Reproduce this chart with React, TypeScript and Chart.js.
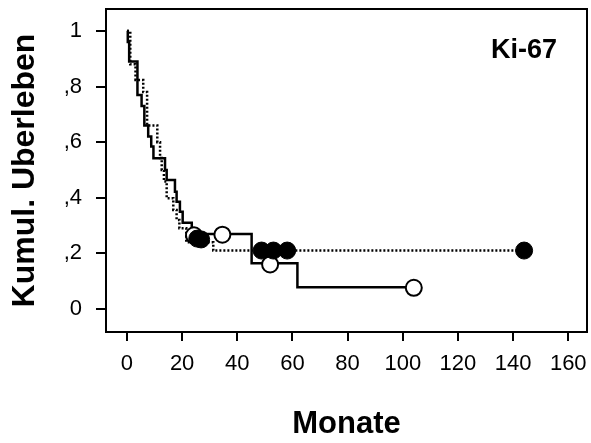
import { useEffect, useRef } from "react";
import { Chart, registerables } from "chart.js";

Chart.register(...registerables);

const FONT = "'Liberation Sans', Arial, Helvetica, sans-serif";

const xTickValues = [0, 20, 40, 60, 80, 100, 120, 140, 160];
const yTickValues = [0, 0.2, 0.4, 0.6, 0.8, 1];

// Solid Kaplan-Meier curve (step times in months, survival after step)
const solidTimes = [0, 0.3, 0.8, 3.8, 5.3, 6.3, 7.7, 8.8, 9.6, 13.8, 14.4, 17.4, 18.0, 19.2, 20.2, 23.5, 45.2, 61.8, 104];
const solidSurv = [1, 0.96, 0.89, 0.77, 0.73, 0.66, 0.62, 0.584, 0.542, 0.5, 0.464, 0.422, 0.386, 0.35, 0.31, 0.27, 0.164, 0.078, 0.078];
// Solid curve censored observations (open circles)
const solidCensorTimes = [24.3, 34.6, 51.9, 104];
const solidCensorSurv = [0.265, 0.267, 0.16, 0.076];

// Dotted Kaplan-Meier curve
const dottedTimes = [0, 1.2, 3.1, 5.9, 7.3, 11.0, 12.0, 12.6, 13.4, 14.4, 16.8, 18.0, 19.0, 21.5, 31.3, 144];
const dottedSurv = [1, 0.88, 0.824, 0.78, 0.66, 0.6, 0.543, 0.5, 0.458, 0.398, 0.356, 0.32, 0.29, 0.24, 0.21, 0.21];
// Dotted curve censored observations (filled circles)
const dottedCensorTimes = [25.5, 26.9, 48.8, 53.1, 58.1, 144];
const dottedCensorSurv = [0.253, 0.25, 0.21, 0.21, 0.21, 0.21];

const xTitle = "Monate";
const yTitle = "Kumul. Uberleben";
const panelLabel = "Ki-67";

const toPoints = (xs: number[], ys: number[]) => xs.map((x, i) => ({ x, y: ys[i] }));

export default function App() {
  const ref = useRef<HTMLCanvasElement>(null);

  useEffect(() => {
    document.body.style.margin = "0";
    const canvas = ref.current;
    if (!canvas) return;

    const boxPlugin = {
      id: "boxPlugin",
      beforeDatasetsDraw(chart: any) {
        const { ctx, chartArea } = chart;
        ctx.save();
        ctx.strokeStyle = "#000";
        ctx.lineWidth = 2;
        ctx.strokeRect(chartArea.left, chartArea.top, chartArea.right - chartArea.left, chartArea.bottom - chartArea.top);
        ctx.fillStyle = "#000";
        ctx.font = `bold 27px ${FONT}`;
        ctx.textAlign = "right";
        ctx.textBaseline = "alphabetic";
        ctx.fillText(panelLabel, chartArea.right - 30, chartArea.top + 49);
        ctx.restore();
      },
    };

    const chart = new Chart(canvas, {
      type: "scatter",
      data: {
        datasets: [
          {
            label: "dotted censored",
            data: toPoints(dottedCensorTimes, dottedCensorSurv),
            showLine: false,
            pointRadius: 8.5,
            pointBackgroundColor: "#000",
            pointBorderColor: "#000",
            pointBorderWidth: 1,
          },
          {
            label: "solid censored",
            data: toPoints(solidCensorTimes, solidCensorSurv),
            showLine: false,
            pointRadius: 8,
            pointBackgroundColor: "#fff",
            pointBorderColor: "#000",
            pointBorderWidth: 2,
          },
          {
            label: "solid",
            data: toPoints(solidTimes, solidSurv),
            showLine: true,
            stepped: "before",
            borderColor: "#000",
            borderWidth: 2.5,
            pointRadius: 0,
            fill: false,
          },
          {
            label: "dotted",
            data: toPoints(dottedTimes, dottedSurv),
            showLine: true,
            stepped: "before",
            borderColor: "#000",
            borderWidth: 2.5,
            borderDash: [2, 2],
            pointRadius: 0,
            fill: false,
          },
        ],
      },
      options: {
        responsive: false,
        animation: false,
        events: [],
        layout: { autoPadding: false, padding: { left: 0, top: 9, right: 4, bottom: 0 } },
        plugins: { legend: { display: false }, tooltip: { enabled: false }, title: { display: false } },
        scales: {
          x: {
            type: "linear",
            min: -7.6,
            max: 166.8,
            afterBuildTicks: (scale: any) => {
              scale.ticks = xTickValues.map((v) => ({ value: v }));
            },
            afterFit: (scale: any) => {
              scale.height = 111;
              scale.paddingLeft = 0;
              scale.paddingRight = 0;
            },
            border: { display: false },
            grid: { drawOnChartArea: false, drawTicks: true, tickLength: 9, color: "#000", lineWidth: 2 },
            ticks: {
              color: "#000",
              font: { family: FONT, size: 22 },
              padding: 10,
              maxRotation: 0,
              autoSkip: false,
              callback: (v: any) => String(v),
            },
            title: {
              display: true,
              text: xTitle,
              color: "#000",
              font: { family: FONT, size: 31, weight: "bold" },
              padding: { top: 0, bottom: 0 },
            },
          },
          y: {
            type: "linear",
            min: -0.083,
            max: 1.079,
            afterBuildTicks: (scale: any) => {
              scale.ticks = yTickValues.map((v) => ({ value: v }));
            },
            afterFit: (scale: any) => {
              scale.width = 106;
              scale.paddingTop = 0;
              scale.paddingBottom = 0;
            },
            border: { display: false },
            grid: { drawOnChartArea: false, drawTicks: true, tickLength: 10, color: "#000", lineWidth: 2 },
            ticks: {
              color: "#000",
              font: { family: FONT, size: 22 },
              padding: 14,
              autoSkip: false,
              callback: (v: any) => {
                const n = Math.round(Number(v) * 10);
                if (n === 0) return "0";
                if (n === 10) return "1";
                return "," + n;
              },
            },
            title: {
              display: true,
              text: yTitle,
              color: "#000",
              font: { family: FONT, size: 32, weight: "bold" },
              padding: { top: 6, bottom: 0 },
            },
          },
        },
      },
      plugins: [boxPlugin],
    } as any);

    return () => chart.destroy();
  }, []);

  return (
    <div style={{ width: 591, height: 443 }}>
      <canvas ref={ref} width={591} height={443} style={{ display: "block" }} />
    </div>
  );
}
